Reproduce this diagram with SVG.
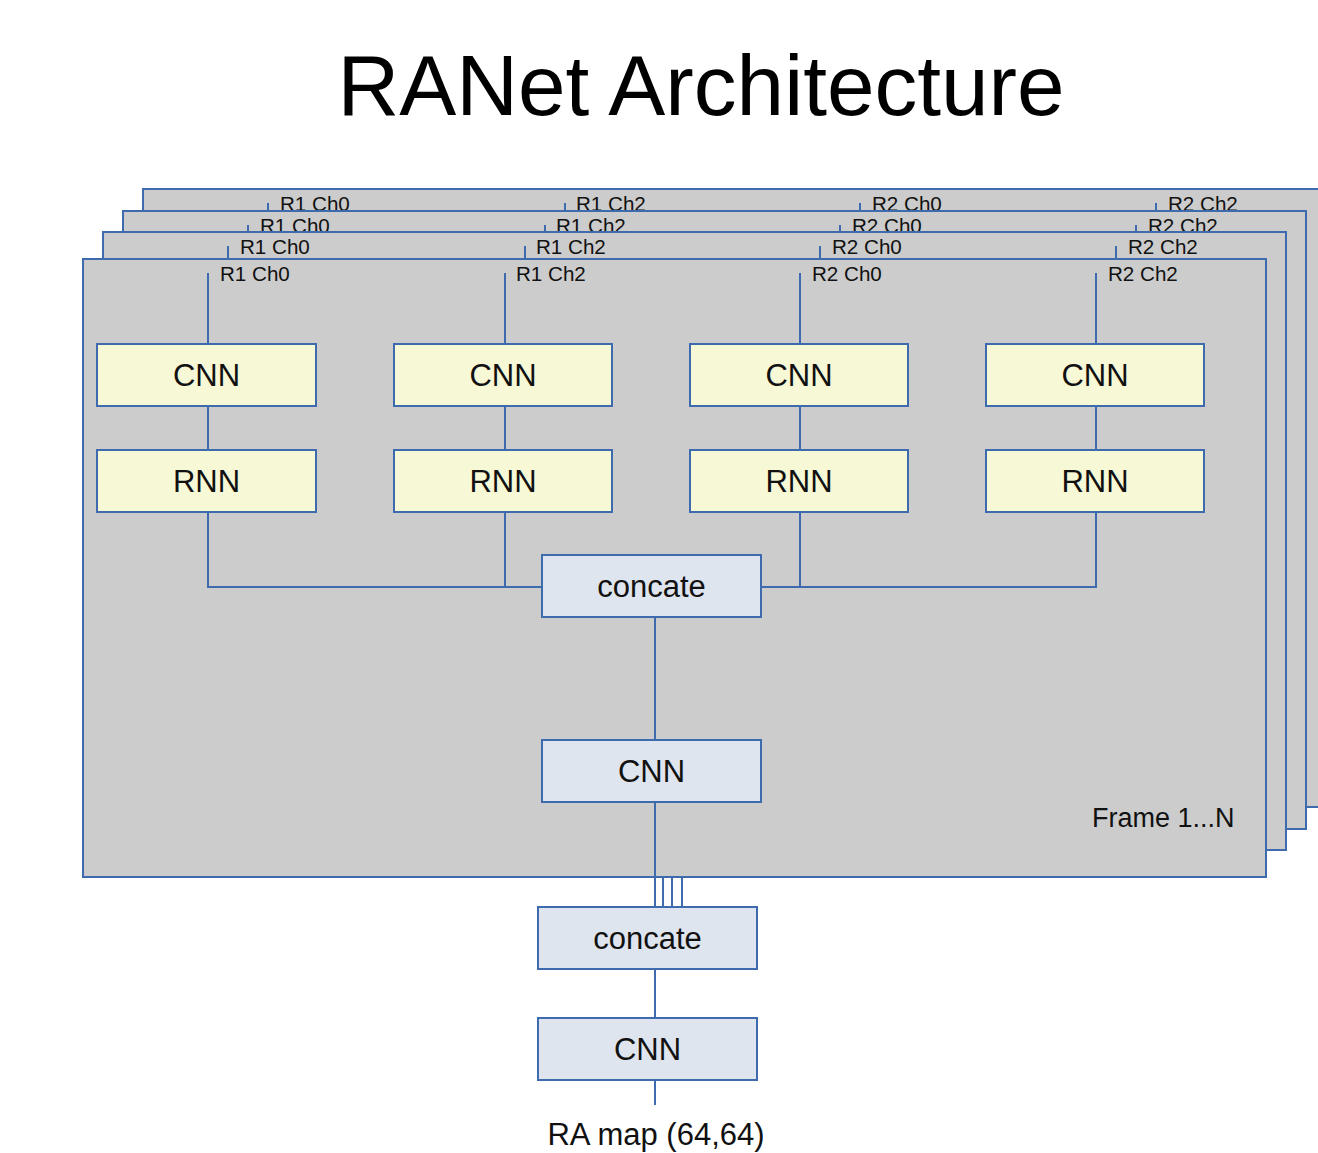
<svg xmlns="http://www.w3.org/2000/svg" width="1318" height="1153" viewBox="0 0 1318 1153">
<style>
.frame{fill:#cccccc;stroke:#3d6bad;stroke-width:2}
.ln{stroke:#3d6bad;stroke-width:2;fill:none}
.ybox{fill:#f7f8d6;stroke:#3d6bad;stroke-width:2}
.bbox{fill:#dfe5ee;stroke:#3d6bad;stroke-width:2}
.lbl{font-family:"Liberation Sans",Arial,sans-serif;font-size:20.6px;fill:#111}
.bt{font-family:"Liberation Sans",Arial,sans-serif;font-size:31px;fill:#111;text-anchor:middle}
.title{font-family:"Liberation Sans",Arial,sans-serif;font-size:85.5px;fill:#000;text-anchor:middle}
</style>
<defs>
<g id="frameBase">
<rect class="frame" x="83" y="259" width="1183" height="618"/>
<line class="ln" x1="208" y1="273" x2="208" y2="344"/>
<line class="ln" x1="505" y1="273" x2="505" y2="344"/>
<line class="ln" x1="800" y1="273" x2="800" y2="344"/>
<line class="ln" x1="1096" y1="273" x2="1096" y2="344"/>
<text class="lbl" x="220" y="281">R1 Ch0</text>
<text class="lbl" x="516" y="281">R1 Ch2</text>
<text class="lbl" x="812" y="281">R2 Ch0</text>
<text class="lbl" x="1108" y="281">R2 Ch2</text>
</g>
</defs>
<text class="title" x="701" y="115">RANet Architecture</text>
<g id="frame-back3"><use href="#frameBase" transform="translate(60,-70)"/></g>
<g id="frame-back2"><use href="#frameBase" transform="translate(40,-48)"/></g>
<g id="frame-back1"><use href="#frameBase" transform="translate(20,-27)"/></g>
<g id="frame-front"><use href="#frameBase"/></g>
<g id="connectors">
<line class="ln" x1="208" y1="406" x2="208" y2="450"/>
<line class="ln" x1="505" y1="406" x2="505" y2="450"/>
<line class="ln" x1="800" y1="406" x2="800" y2="450"/>
<line class="ln" x1="1096" y1="406" x2="1096" y2="450"/>
<polyline class="ln" points="208,512 208,587 542,587"/>
<line class="ln" x1="505" y1="512" x2="505" y2="587"/>
<line class="ln" x1="800" y1="512" x2="800" y2="587"/>
<polyline class="ln" points="1096,512 1096,587 761,587"/>
<line class="ln" x1="655" y1="617" x2="655" y2="740"/>
<line class="ln" x1="655" y1="802" x2="655" y2="907"/>
<line class="ln" x1="663" y1="877" x2="663" y2="907"/>
<line class="ln" x1="672" y1="877" x2="672" y2="907"/>
<line class="ln" x1="682" y1="877" x2="682" y2="907"/>
<line class="ln" x1="655" y1="969" x2="655" y2="1018"/>
<line class="ln" x1="655" y1="1080" x2="655" y2="1105"/>
</g>
<g id="cnn1"><rect class="ybox" x="97" y="344" width="219" height="62"/><text class="bt" x="206.5" y="386">CNN</text></g>
<g id="cnn2"><rect class="ybox" x="394" y="344" width="218" height="62"/><text class="bt" x="503" y="386">CNN</text></g>
<g id="cnn3"><rect class="ybox" x="690" y="344" width="218" height="62"/><text class="bt" x="799" y="386">CNN</text></g>
<g id="cnn4"><rect class="ybox" x="986" y="344" width="218" height="62"/><text class="bt" x="1095" y="386">CNN</text></g>
<g id="rnn1"><rect class="ybox" x="97" y="450" width="219" height="62"/><text class="bt" x="206.5" y="492">RNN</text></g>
<g id="rnn2"><rect class="ybox" x="394" y="450" width="218" height="62"/><text class="bt" x="503" y="492">RNN</text></g>
<g id="rnn3"><rect class="ybox" x="690" y="450" width="218" height="62"/><text class="bt" x="799" y="492">RNN</text></g>
<g id="rnn4"><rect class="ybox" x="986" y="450" width="218" height="62"/><text class="bt" x="1095" y="492">RNN</text></g>
<g id="concate-inner"><rect class="bbox" x="542" y="555" width="219" height="62"/><text class="bt" x="651.5" y="597">concate</text></g>
<g id="cnn-inner"><rect class="bbox" x="542" y="740" width="219" height="62"/><text class="bt" x="651.5" y="782">CNN</text></g>
<g id="frame-label"><text class="lbl" style="font-size:27px" x="1092" y="827">Frame 1...N</text></g>
<g id="concate-outer"><rect class="bbox" x="538" y="907" width="219" height="62"/><text class="bt" x="647.5" y="949">concate</text></g>
<g id="cnn-outer"><rect class="bbox" x="538" y="1018" width="219" height="62"/><text class="bt" x="647.5" y="1060">CNN</text></g>
<g id="output"><text class="bt" x="656" y="1145">RA map (64,64)</text></g>
</svg>
